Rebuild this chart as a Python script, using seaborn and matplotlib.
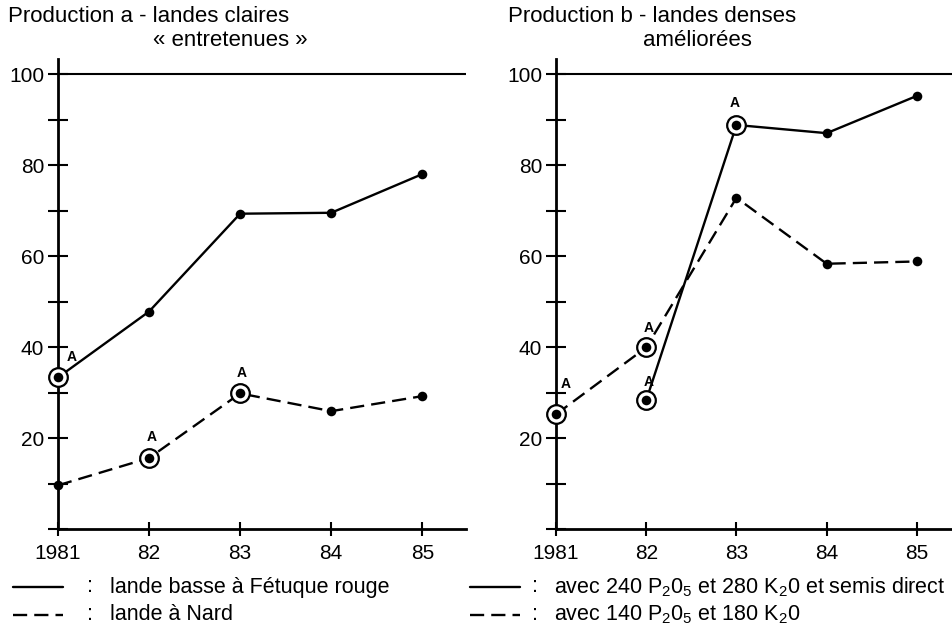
import numpy as np
import pandas as pd
import matplotlib
matplotlib.use("Agg")
import matplotlib.pyplot as plt
import seaborn as sns
from matplotlib.lines import Line2D
from matplotlib.ticker import MultipleLocator

sns.set_style("white")
plt.rcParams["font.family"] = ["Liberation Sans", "DejaVu Sans"]
plt.rcParams["mathtext.fontset"] = "custom"
plt.rcParams["mathtext.rm"] = "Liberation Sans"
plt.rcParams["mathtext.it"] = "Liberation Sans"
for k in ["text.color", "axes.labelcolor", "xtick.color", "ytick.color", "axes.edgecolor"]:
    plt.rcParams[k] = "black"

# ---------------- data ----------------
years = [1981, 1982, 1983, 1984, 1985]
year_labels = ["1981", "82", "83", "84", "85"]
y_ticks = [20, 40, 60, 80, 100]

# Production a - landes claires « entretenues »
a_fetuque = [33.3, 47.8, 69.3, 69.5, 78.0]      # lande basse à Fétuque rouge
a_nard = [9.6, 15.6, 29.8, 25.9, 29.2]          # lande à Nard
a_fetuque_sig = [1981]
a_nard_sig = [1982, 1983]

# Production b - landes denses améliorées
b_semis_years = [1982, 1983, 1984, 1985]
b_semis = [28.3, 88.8, 87.0, 95.2]              # 240 P2O5, 280 K2O, semis direct
b_140 = [25.2, 39.9, 72.8, 58.3, 58.8]          # 140 P2O5, 180 K2O
b_semis_sig = [1982, 1983]
b_140_sig = [1981, 1982]

titles_a = ["Production a - landes claires", "« entretenues »"]
titles_b = ["Production b - landes denses", "améliorées"]
leg_a = ["lande basse à Fétuque rouge", "lande à Nard"]
leg_b = [r"avec 240 $\mathrm{P_20_5}$ et 280 $\mathrm{K_20}$ et semis direct",
         r"avec 140 $\mathrm{P_20_5}$ et 180 $\mathrm{K_20}$"]


def make_df(specs):
    rows = []
    for name, xs, ys, sig in specs:
        for x, y in zip(xs, ys):
            rows.append({"year": x, "value": y, "series": name, "sig": x in sig})
    return pd.DataFrame(rows)


df_a = make_df([("solid", years, a_fetuque, a_fetuque_sig),
                ("dashed", years, a_nard, a_nard_sig)])
df_b = make_df([("solid", b_semis_years, b_semis, b_semis_sig),
                ("dashed", years, b_140, b_140_sig)])

# offsets (points) of the "A" labels for each significant point
offs_a = {("solid", 1981): (10, 15), ("dashed", 1982): (2, 15), ("dashed", 1983): (1, 15)}
offs_b = {("dashed", 1981): (7, 22), ("dashed", 1982): (2, 14),
          ("solid", 1982): (2, 13), ("solid", 1983): (-1, 16)}

fig = plt.figure(figsize=(9.53, 6.29), dpi=100)
ax_a = fig.add_axes([58 / 953, 1 - 529 / 629, (466 - 58) / 953, (529 - 59) / 629])
ax_b = fig.add_axes([556 / 953, 1 - 529 / 629, (953 - 556) / 953, (529 - 59) / 629])

dashes = {"solid": "", "dashed": (6, 3)}


def draw(ax, df, offs, xmax):
    sns.lineplot(data=df, x="year", y="value", style="series",
                 style_order=["solid", "dashed"], dashes=dashes,
                 color="black", linewidth=1.7, legend=False, ax=ax,
                 estimator=None, sort=False)
    sig = df[df["sig"]]
    sns.scatterplot(data=sig, x="year", y="value", color="white",
                    edgecolor="black", linewidth=1.6, s=180, legend=False,
                    ax=ax, zorder=3, clip_on=False)
    sns.scatterplot(data=df, x="year", y="value", color="black",
                    edgecolor="black", linewidth=0, s=48, legend=False,
                    ax=ax, zorder=4, clip_on=False)
    for _, r in sig.iterrows():
        dx, dy = offs[(r["series"], r["year"])]
        ax.annotate("A", (r["year"], r["value"]), xytext=(dx, dy),
                    textcoords="offset points", ha="center", va="center",
                    fontsize=10, fontweight="bold")
    ax.set_xlim(1981, xmax)
    ax.set_ylim(0, 103.3)
    ax.axhline(100, color="black", linewidth=1.5)
    ax.set_xticks(years)
    ax.set_xticklabels(year_labels)
    ax.set_yticks(y_ticks)
    ax.set_yticklabels([str(v) for v in y_ticks])
    ax.yaxis.set_minor_locator(MultipleLocator(10))
    ax.tick_params(axis="y", which="both", direction="inout", length=14,
                   width=1.5, labelsize=15, pad=3, left=True)
    ax.tick_params(axis="x", which="both", direction="inout", length=10,
                   width=1.5, labelsize=15, pad=6, bottom=True)
    for s in ["top", "right"]:
        ax.spines[s].set_visible(False)
    for s in ["left", "bottom"]:
        ax.spines[s].set_linewidth(2)
        ax.spines[s].set_color("black")
    ax.set_xlabel("")
    ax.set_ylabel("")
    ax.patch.set_alpha(0)


draw(ax_a, df_a, offs_a, 1985.48)
draw(ax_b, df_b, offs_b, 1985.4)

# titles
fs_t = 16
fig.text(8 / 953, 1 - 17 / 629, titles_a[0], fontsize=fs_t, ha="left", va="center")
fig.text(230 / 953, 1 - 40 / 629, titles_a[1], fontsize=fs_t, ha="center", va="center")
fig.text(508 / 953, 1 - 17 / 629, titles_b[0], fontsize=fs_t, ha="left", va="center")
fig.text(697 / 953, 1 - 40 / 629, titles_b[1], fontsize=fs_t, ha="center", va="center")

# legends
fs_l = 15.5


def legend_block(x0, x1, xcol, xtxt, labels):
    for i, (lab, st) in enumerate(zip(labels, ["solid", "dashed"])):
        yy = 1 - (587 + 28 * i) / 629
        ln = Line2D([x0 / 953, x1 / 953], [yy, yy], transform=fig.transFigure,
                    color="black", linewidth=1.7)
        if st == "dashed":
            ln.set_dashes((6, 3))
        fig.add_artist(ln)
        fig.text(xcol / 953, yy, ":", fontsize=fs_l, ha="center", va="center")
        fig.text(xtxt / 953, yy, lab, fontsize=fs_l, ha="left", va="center")


legend_block(13, 63, 90, 110, leg_a)
legend_block(470, 520, 535, 554, leg_b)

fig.savefig("out.png", dpi=100)
